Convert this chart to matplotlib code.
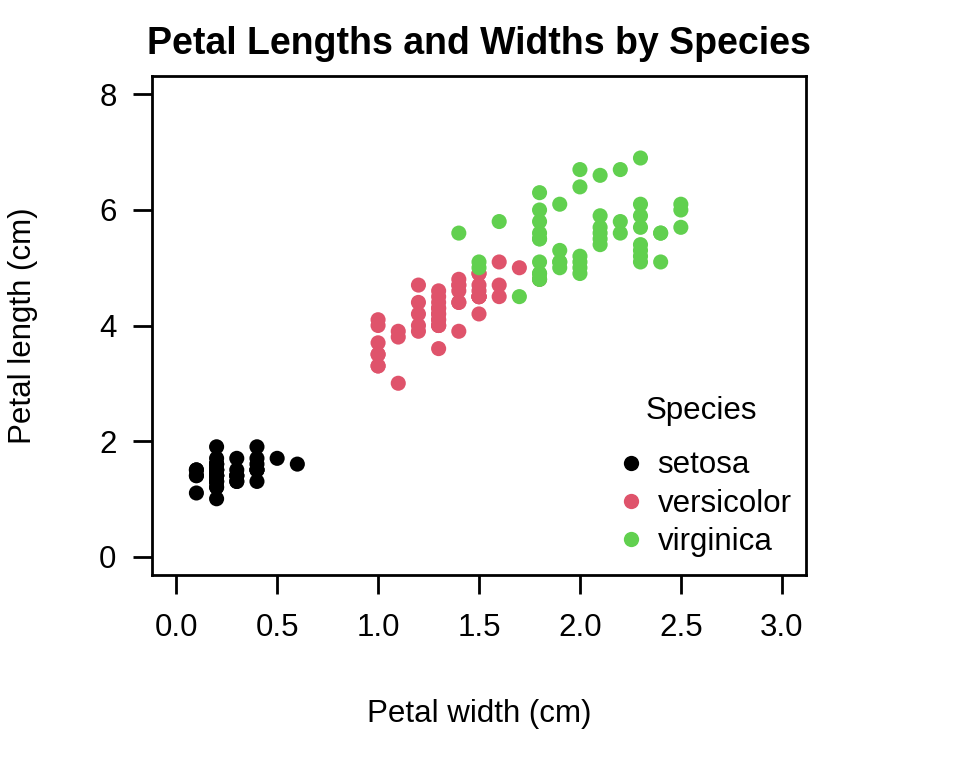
import matplotlib.pyplot as plt
from matplotlib.lines import Line2D

plt.rcParams['font.family'] = ['Liberation Sans', 'DejaVu Sans']

species = ["setosa", "versicolor", "virginica"]
colors = ["#000000", "#DF536B", "#61D04F"]

setosa_width = [0.2, 0.2, 0.2, 0.2, 0.2, 0.4, 0.3, 0.2, 0.2, 0.1,
                0.2, 0.2, 0.1, 0.1, 0.2, 0.4, 0.4, 0.3, 0.3, 0.3,
                0.2, 0.4, 0.2, 0.5, 0.2, 0.2, 0.4, 0.2, 0.2, 0.2,
                0.2, 0.4, 0.1, 0.2, 0.2, 0.2, 0.2, 0.1, 0.2, 0.2,
                0.3, 0.3, 0.2, 0.6, 0.4, 0.3, 0.2, 0.2, 0.2, 0.2]
setosa_length = [1.4, 1.4, 1.3, 1.5, 1.4, 1.7, 1.4, 1.5, 1.4, 1.5,
                 1.5, 1.6, 1.4, 1.1, 1.2, 1.5, 1.3, 1.4, 1.7, 1.5,
                 1.7, 1.5, 1.0, 1.7, 1.9, 1.6, 1.6, 1.5, 1.4, 1.6,
                 1.6, 1.5, 1.5, 1.4, 1.5, 1.2, 1.3, 1.4, 1.3, 1.5,
                 1.3, 1.3, 1.3, 1.6, 1.9, 1.4, 1.6, 1.4, 1.5, 1.4]

versicolor_width = [1.4, 1.5, 1.5, 1.3, 1.5, 1.3, 1.6, 1.0, 1.3, 1.4,
                    1.0, 1.5, 1.0, 1.4, 1.3, 1.4, 1.5, 1.0, 1.5, 1.1,
                    1.8, 1.3, 1.5, 1.2, 1.3, 1.4, 1.4, 1.7, 1.5, 1.0,
                    1.1, 1.0, 1.2, 1.6, 1.5, 1.6, 1.5, 1.3, 1.3, 1.3,
                    1.2, 1.4, 1.2, 1.0, 1.3, 1.2, 1.3, 1.3, 1.1, 1.3]
versicolor_length = [4.7, 4.5, 4.9, 4.0, 4.6, 4.5, 4.7, 3.3, 4.6, 3.9,
                     3.5, 4.2, 4.0, 4.7, 3.6, 4.4, 4.5, 4.1, 4.5, 3.9,
                     4.8, 4.0, 4.9, 4.7, 4.3, 4.4, 4.8, 5.0, 4.5, 3.5,
                     3.8, 3.7, 3.9, 5.1, 4.5, 4.5, 4.7, 4.4, 4.1, 4.0,
                     4.4, 4.6, 4.0, 3.3, 4.2, 4.2, 4.2, 4.3, 3.0, 4.1]

virginica_width = [2.5, 1.9, 2.1, 1.8, 2.2, 2.1, 1.7, 1.8, 1.8, 2.5,
                   2.0, 1.9, 2.1, 2.0, 2.4, 2.3, 1.8, 2.2, 2.3, 1.5,
                   2.3, 2.0, 2.0, 1.8, 2.1, 1.8, 1.8, 1.8, 2.1, 1.6,
                   1.9, 2.0, 2.2, 1.5, 1.4, 2.3, 2.4, 1.8, 1.8, 2.1,
                   2.4, 2.3, 1.9, 2.3, 2.5, 2.3, 1.9, 2.0, 2.3, 1.8]
virginica_length = [6.0, 5.1, 5.9, 5.6, 5.8, 6.6, 4.5, 6.3, 5.8, 6.1,
                    5.1, 5.3, 5.5, 5.0, 5.1, 5.3, 5.5, 6.7, 6.9, 5.0,
                    5.7, 4.9, 6.7, 4.9, 5.7, 6.0, 4.8, 4.9, 5.6, 5.8,
                    6.1, 6.4, 5.6, 5.1, 5.6, 6.1, 5.6, 5.5, 4.8, 5.4,
                    5.6, 5.1, 5.1, 5.9, 5.7, 5.2, 5.0, 5.2, 5.4, 5.1]

x_ticks = [0.0, 0.5, 1.0, 1.5, 2.0, 2.5, 3.0]
y_ticks = [0, 2, 4, 6, 8]

fig = plt.figure(figsize=(9.6, 7.68), dpi=100)
ax = fig.add_axes([152 / 960, 1 - 575 / 768, 654 / 960, 499 / 768])

widths = [setosa_width, versicolor_width, virginica_width]
lengths = [setosa_length, versicolor_length, virginica_length]
for w, l, c in zip(widths, lengths, colors):
    ax.scatter(w, l, s=118, color=c, edgecolors='none', zorder=3)

ax.set_xlim(-0.12, 3.12)
ax.set_ylim(-0.32, 8.32)
ax.set_xticks(x_ticks)
ax.set_xticklabels([f"{t:.1f}" for t in x_ticks])
ax.set_yticks(y_ticks)
ax.tick_params(axis='both', labelsize=22.5, length=13.5, width=2, direction='out')
ax.tick_params(axis='x', pad=14)
ax.tick_params(axis='y', pad=12)
for sp in ax.spines.values():
    sp.set_linewidth(2)

ax.set_title("Petal Lengths and Widths by Species", fontsize=27,
             fontweight='bold', pad=16)
ax.set_xlabel("Petal width (cm)", fontsize=22.5, labelpad=40)
ax.set_ylabel("Petal length (cm)", fontsize=22.5, labelpad=44)

# legend without frame, title placed separately (R leaves a bigger gap)
handles = [Line2D([], [], marker='o', linestyle='none', markersize=11,
                  markerfacecolor=c, markeredgecolor='none') for c in colors]
ax.legend(handles, species, loc='lower right',
          bbox_to_anchor=(1.021, -0.021), frameon=False, fontsize=22.5,
          handletextpad=0.35, labelspacing=0.27, handlelength=1.0)
fig.text(701 / 960, 1 - 411 / 768, "Species", fontsize=22.5,
         ha='center', va='center')

fig.savefig("out.png", dpi=100)
